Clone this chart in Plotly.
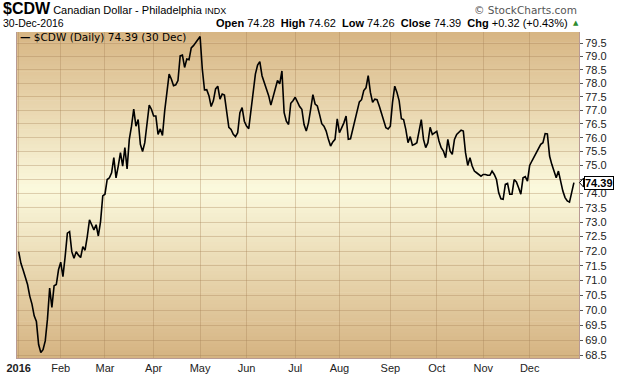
import math
import pandas as pd
import plotly.graph_objects as go

# ---------------- data ----------------
close = [
    71.98, 71.58, 71.35, 71.13, 70.86, 70.47, 70.20, 69.81, 69.62, 68.86,
    68.60, 68.69, 68.98, 69.70, 70.74, 70.09, 70.82, 70.86, 71.36, 71.62,
    71.13, 71.81, 72.62, 72.67, 71.98, 71.75, 71.98, 71.86, 71.78, 72.15,
    72.03, 72.50, 73.08, 72.91, 72.73, 72.91, 72.52, 73.02, 73.92, 73.98,
    74.50, 74.56, 74.74, 75.28, 74.56, 74.98, 75.46, 74.98, 75.64, 74.88,
    75.94, 76.42, 77.04, 76.42, 76.66, 75.76, 75.50, 75.82, 76.42, 77.19,
    77.04, 76.79, 76.79, 76.12, 76.32, 76.08, 76.98, 77.60, 78.34, 78.16,
    77.91, 77.94, 78.10, 79.03, 79.06, 78.59, 78.91, 78.88, 79.33, 79.41,
    79.52, 79.67, 79.76, 78.53, 77.75, 77.76, 77.54, 77.14, 77.35, 77.79,
    77.89, 77.41, 77.60, 77.56, 76.85, 76.38, 76.30, 76.12, 76.04, 76.18,
    76.91, 77.10, 76.60, 76.42, 76.33, 76.98, 77.73, 78.34, 78.68, 78.81,
    78.28, 78.04, 77.85, 77.54, 77.19, 77.48, 77.79, 78.10, 77.98, 78.46,
    76.91, 76.60, 76.48, 77.26, 77.35, 77.48, 77.31, 77.14, 77.04, 76.48,
    76.24, 76.54, 77.04, 77.58, 77.23, 77.16, 76.85, 76.51, 76.42, 76.24,
    75.94, 75.70, 75.85, 75.94, 76.69, 76.18, 76.36, 76.54, 76.79, 75.94,
    75.96, 76.30, 76.66, 76.91, 77.31, 77.39, 77.73, 77.83, 78.28, 77.66,
    77.29, 77.41, 77.39, 77.16, 76.88, 76.54, 76.36, 76.32, 76.42, 77.29,
    77.89, 77.66, 77.35, 76.69, 76.66, 76.30, 75.82, 76.04, 75.73, 75.76,
    75.82, 76.24, 76.66, 75.94, 75.64, 75.82, 76.38, 76.12, 76.18, 76.23,
    75.88, 75.64, 75.52, 75.28, 75.94, 75.52, 75.40, 75.94, 76.12, 76.18,
    76.27, 76.24, 75.46, 75.00, 75.28, 74.98, 74.80, 74.74, 74.68, 74.62,
    74.68, 74.68, 74.65, 74.65, 74.80, 74.68, 74.50, 74.03, 73.82, 73.80,
    74.33, 74.36, 73.98, 73.98, 74.50, 74.41, 74.21, 73.98, 74.56, 74.60,
    74.44, 75.00, 75.16, 75.32, 75.46, 75.64, 75.76, 75.82, 76.15, 76.14,
    75.34, 75.04, 74.80, 74.56, 74.80, 74.38, 74.09, 73.86, 73.74, 73.70,
    74.04, 74.39,
]

holidays = ["2016-01-01", "2016-01-18", "2016-02-15", "2016-03-25", "2016-05-30",
            "2016-07-04", "2016-09-05", "2016-11-24", "2016-12-26"]

month_labels = ["<b>2016</b>", "Feb", "Mar", "Apr", "May", "Jun", "Jul",
                "Aug", "Sep", "Oct", "Nov", "Dec"]

y_ticks = [68.5, 69.0, 69.5, 70.0, 70.5, 71.0, 71.5, 72.0, 72.5, 73.0, 73.5,
           74.0, 74.5, 75.0, 75.5, 76.0, 76.5, 77.0, 77.5, 78.0, 78.5, 79.0, 79.5]
# 74.5 label is hidden behind the last-value tag in the original
y_tick_text = ["68.5", "69.0", "69.5", "70.0", "70.5", "71.0", "71.5", "72.0",
               "72.5", "73.0", "73.5", "74.0", "", "75.0", "75.5", "76.0", "76.5",
               "77.0", "77.5", "78.0", "78.5", "79.0", "79.5"]

last_value = 74.39

# ---------------- dates (trading days) ----------------
bdays = pd.bdate_range("2016-01-01", "2016-12-31")
trading = [d for d in bdays if d.strftime("%Y-%m-%d") not in holidays]
n = min(len(trading), len(close))
dates = [d.strftime("%Y-%m-%d") for d in trading[:n]]
close = close[:n]

month_first = []
seen = set()
for d in trading[:n]:
    if d.month not in seen:
        seen.add(d.month)
        month_first.append(d.strftime("%Y-%m-%d"))

# ---------------- figure ----------------
W, H = 620, 376
L, R, T, B = 17, 41, 32, 18
y_lo, y_hi = math.log10(68.42), math.log10(79.93)

fig = go.Figure()
fig.add_trace(go.Scatter(
    x=dates, y=close, mode="lines",
    line=dict(color="#000000", width=1.6),
    hoverinfo="skip", showlegend=False,
))

# gradient background bands (paper shapes are drawn under the grid)
top_c = (215, 181, 131)
mid_c = (251, 249, 221)
bot_c = (213, 179, 129)
mid_pos = 0.52
nb = 90
shapes = []
for k in range(nb):
    y0 = k / nb
    y1 = (k + 1) / nb + 0.002
    yc = (k + 0.5) / nb
    if yc < mid_pos:
        t = yc / mid_pos
        c = tuple(round(bot_c[j] + (mid_c[j] - bot_c[j]) * t) for j in range(3))
    else:
        t = (yc - mid_pos) / (1 - mid_pos)
        c = tuple(round(mid_c[j] + (top_c[j] - mid_c[j]) * t) for j in range(3))
    shapes.append(dict(type="rect", xref="paper", yref="paper", x0=0, x1=1,
                       y0=y0, y1=min(y1, 1), layer="below",
                       fillcolor="rgb(%d,%d,%d)" % c, line=dict(width=0)))

# pointer of the last-value tag
plot_w = W - L - R
plot_h = H - T - B
py_last = (math.log10(last_value) - y_lo) / (y_hi - y_lo)
tip_x = 1 + 0.5 / plot_w
base_x = 1 + 4.5 / plot_w
hh = 4.5 / plot_h
shapes.append(dict(
    type="path", xref="paper", yref="paper", layer="above",
    path="M %f,%f L %f,%f L %f,%f Z" % (tip_x, py_last, base_x, py_last + hh,
                                        base_x, py_last - hh),
    fillcolor="white", line=dict(color="#000", width=1)))

grid_c = "rgba(165,130,85,0.35)"
border_c = "#b89a94"
txt_font = "Liberation Sans, Arial, sans-serif"

fig.update_layout(
    width=W, height=H,
    margin=dict(l=L, r=R, t=T, b=B, pad=0),
    paper_bgcolor="white", plot_bgcolor="rgba(0,0,0,0)",
    shapes=shapes,
    showlegend=False,
    hovermode=False,
    xaxis=dict(
        type="category",
        range=[-0.77, 253.3],
        tickmode="array", tickvals=month_first, ticktext=month_labels,
        showgrid=True, gridcolor=grid_c, gridwidth=1,
        showline=True, linecolor=border_c, linewidth=1,
        ticks="", tickfont=dict(family=txt_font, size=11, color="#222"),
        zeroline=False, fixedrange=True, automargin=False,
    ),
    yaxis=dict(
        type="log", side="right",
        range=[y_lo, y_hi],
        tickmode="array", tickvals=y_ticks, ticktext=y_tick_text,
        showgrid=True, gridcolor=grid_c, gridwidth=1,
        showline=True, mirror=True, linecolor=border_c, linewidth=1,
        ticks="outside", ticklen=3, tickcolor="#555",
        tickfont=dict(family=txt_font, size=11, color="#222"),
        zeroline=False, fixedrange=True, automargin=False,
    ),
)

def px_x(px):
    return (px - L) / plot_w

def px_y(py):
    return (H - B - py) / plot_h

ann = []
ann.append(dict(
    xref="paper", yref="paper", x=px_x(1), y=px_y(9), xanchor="left", yanchor="middle",
    text="<b><span style='font-size:16px'>$CDW</span></b> Canadian Dollar - Philadelphia "
         "<span style='font-size:9px'>INDX</span>",
    showarrow=False, font=dict(family=txt_font, size=11, color="#000")))
ann.append(dict(
    xref="paper", yref="paper", x=px_x(1), y=px_y(23), xanchor="left", yanchor="middle",
    text="30-Dec-2016", showarrow=False,
    font=dict(family=txt_font, size=10.5, color="#000")))
ann.append(dict(
    xref="paper", yref="paper", x=px_x(570), y=px_y(23), xanchor="right", yanchor="middle",
    text="<b>Open</b> 74.28  <b>High</b> 74.62  <b>Low</b> 74.26  <b>Close</b> 74.39  "
         "<b>Chg</b> +0.32 (+0.43%)",
    showarrow=False, font=dict(family=txt_font, size=11, color="#000")))
ann.append(dict(
    xref="paper", yref="paper", x=px_x(571), y=px_y(23), xanchor="left", yanchor="middle",
    text="▲", showarrow=False, font=dict(family="DejaVu Sans", size=7, color="#2e8b2e")))
ann.append(dict(
    xref="paper", yref="paper", x=px_x(579), y=px_y(9.5), xanchor="right", yanchor="middle",
    text="© StockCharts.com", showarrow=False,
    font=dict(family="DejaVu Sans, sans-serif", size=10.5, color="#555")))
# legend inside the plot
ann.append(dict(
    xref="paper", yref="paper", x=px_x(18), y=px_y(36.5), xanchor="left", yanchor="middle",
    text="<b>—</b> $CDW (Daily) %.2f (30 Dec)" % last_value, showarrow=False,
    font=dict(family="DejaVu Sans, sans-serif", size=10.5, color="#000")))
# last value tag
ann.append(dict(
    xref="paper", yref="y", x=1, y=math.log10(last_value), xanchor="left", yanchor="middle",
    xshift=4.5, text="<b>%.2f</b>" % last_value, showarrow=False,
    bgcolor="white", bordercolor="#000", borderwidth=1, borderpad=0,
    font=dict(family=txt_font, size=11, color="#000")))
fig.update_layout(annotations=ann)

fig.write_html("out.html", config={"displayModeBar": False, "staticPlot": True})
